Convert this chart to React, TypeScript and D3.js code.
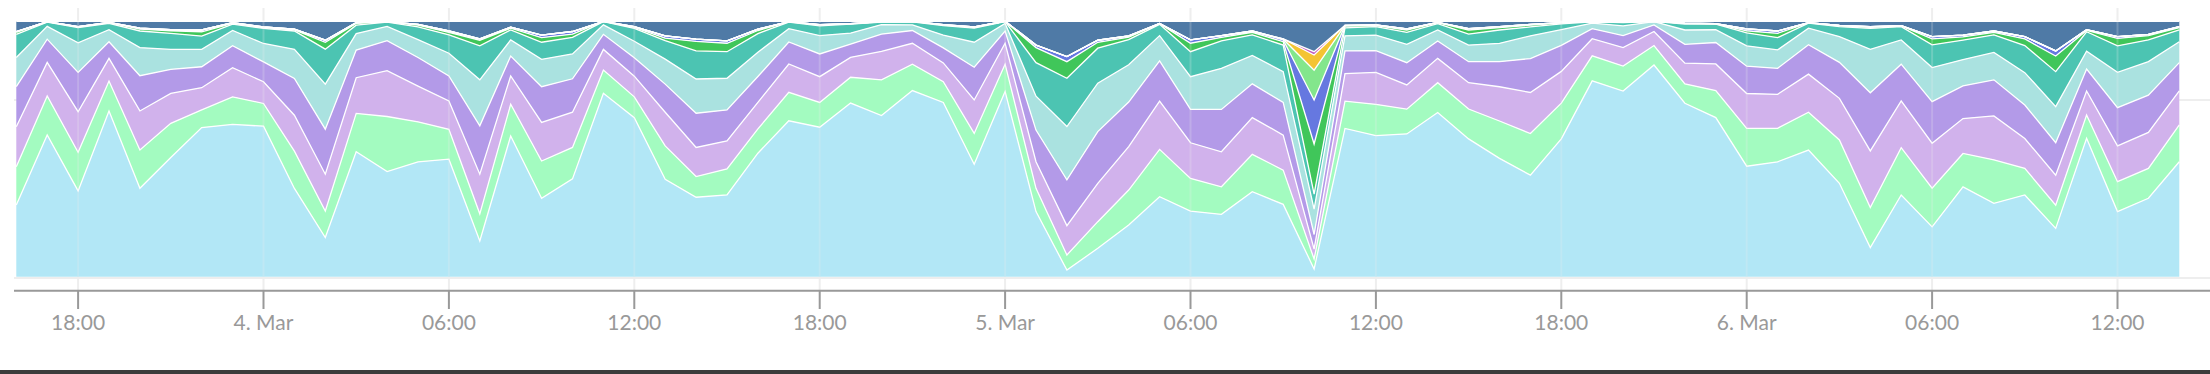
import React from "react";
import * as d3 from "d3";

// hourly samples, 3 Mar 16:00 → 6 Mar 14:00 (71 points)
const START = new Date(2020, 2, 3, 16);
const N_POINTS = 71;

const seriesNames = [
  "Series A", "Series B", "Series C", "Series D", "Series E", "Series F",
  "Series G", "Series H", "Series I", "Series J", "Series K", "Series L",
];

const seriesColors = [
  "#b2e7f6", "#a3fbc0", "#d1b2ec", "#b39ae8", "#aae2e0", "#4cc4b2",
  "#40c65a", "#6678e0", "#83e68c", "#f4c433", "#c45cc0", "#4f7aa6",
];

const sA = [28.1,55.5,33.6,64.9,34.6,46.6,58.4,59.7,59.0,34.6,15.3,49.0,41.1,45.0,46.0,14.0,55.1,30.7,38.3,71.8,62.3,38.1,31.1,32.0,48.3,61.0,58.6,67.9,63.1,72.8,68.3,44.0,72.5,25.5,2.6,11.1,20.2,31.3,25.7,24.4,33.3,28.3,3.0,58.1,55.2,55.9,64.2,53.9,46.3,39.8,53.9,76.6,72.7,82.9,67.9,62.3,43.3,45.0,49.6,36.6,11.4,32.0,19.5,35.2,28.7,32.0,18.9,54.2,25.5,30.7,45.0];
const sB = [15.0,15.3,15.1,11.7,15.0,13.4,6.9,10.8,8.9,14.6,10.4,15.0,21.5,15.7,11.7,10.6,12.4,14.6,12.3,9.1,8.2,13.1,8.1,10.2,9.5,11.1,9.7,10.1,14.0,10.3,8.1,12.1,10.7,9.1,5.9,10.4,13.7,18.5,12.8,10.8,14.6,13.4,3.9,10.7,12.3,9.7,11.7,11.7,14.6,16.3,14.0,9.8,9.8,7.6,7.6,10.6,14.8,13.1,14.8,17.0,15.7,18.5,15.1,13.1,17.0,10.4,9.1,9.1,11.7,11.7,14.4];
const sC = [15.7,13.1,15.9,8.9,15.3,11.7,8.7,11.4,8.5,14.1,14.4,14.0,17.9,14.0,11.1,15.5,11.1,15.1,13.8,8.1,8.1,13.2,11.4,11.0,10.4,11.1,10.1,7.8,11.1,8.2,7.4,13.1,8.2,10.4,11.5,15.0,17.0,18.9,14.0,13.7,14.4,13.7,3.9,10.8,12.5,9.5,9.5,10.3,13.4,16.1,12.4,6.7,7.2,5.5,8.1,10.4,13.7,13.3,14.9,16.3,22.2,18.3,17.6,13.7,17.2,11.7,11.7,9.4,14.0,14.1,13.4];
const sD = [15.7,9.1,15.4,6.5,13.8,9.4,8.2,8.6,7.8,14.4,17.6,10.8,11.7,11.2,9.8,18.9,7.8,14.0,13.1,5.9,7.2,11.0,13.4,12.1,10.1,8.6,8.9,5.2,6.8,5.0,5.9,12.8,4.8,12.4,17.9,20.2,17.4,15.7,13.1,16.6,13.2,12.8,5.7,8.9,8.5,8.7,6.8,8.2,9.8,13.3,10.2,3.9,4.7,2.6,7.4,8.4,10.7,10.2,11.5,14.1,22.8,14.4,16.3,12.8,14.1,13.1,12.7,8.6,15.0,14.6,11.0];
const sE = [11.4,5.0,11.6,4.7,11.0,7.8,6.8,6.0,7.2,11.4,17.6,6.5,5.6,7.0,8.9,18.0,6.3,10.7,9.7,3.7,6.5,9.8,13.4,12.4,9.5,5.2,7.2,4.3,3.7,2.2,5.0,9.8,3.0,13.3,20.9,18.9,14.6,9.9,12.8,16.1,11.1,12.0,9.9,5.9,6.1,7.2,4.3,6.5,7.2,8.9,6.1,2.2,3.8,1.3,5.6,5.0,8.0,7.2,6.5,10.1,17.0,9.5,13.3,10.3,10.7,12.7,14.1,7.0,13.8,13.1,8.2];
const sF = [9.1,1.7,5.9,2.5,6.5,6.3,5.2,2.5,5.9,7.2,13.7,3.3,1.7,5.0,7.2,13.3,3.9,6.7,6.5,1.3,5.0,7.2,11.0,10.4,7.3,2.6,3.8,3.5,1.0,1.2,3.7,5.5,0.7,13.1,18.9,13.7,9.8,4.4,9.8,10.7,8.1,10.4,5.9,3.1,3.3,4.7,2.5,4.3,5.2,3.5,2.3,0.5,1.3,0.1,2.3,2.2,5.1,4.8,2.0,3.9,8.2,5.2,8.9,7.6,6.9,10.6,13.7,7.6,10.4,8.5,4.6];
const sG = [0.8,0.1,0.3,0.3,0.7,1.0,1.7,0.3,0.3,0.4,2.7,0.7,0.1,0.7,1.0,2.2,0.7,1.8,1.3,0.1,0.4,1.0,3.7,3.3,1.2,0.1,0.4,0.1,0.1,0.1,0.3,0.4,0.1,5.9,6.5,2.3,1.0,0.3,3.3,1.4,1.0,1.3,19.6,0.7,0.4,0.9,0.4,1.6,0.9,0.7,0.4,0.1,0.1,0,0.3,0.1,0.8,1.7,0.1,0.4,0.4,0.3,2.3,1.3,1.0,2.6,6.1,0.5,2.9,1.7,0.9];
const sH = [0.3,0.1,0.1,0.1,0.4,0.4,0.7,0.3,0.3,0.3,0.8,0.3,0.1,0.3,0.5,0.5,0.4,1.0,1.0,0,0.3,0.9,0.9,0.9,0.5,0.1,0.1,0.1,0.1,0.1,0.1,0.1,0,1.0,2.0,0.8,0.5,0.1,1.3,0.7,0.5,0.7,17.2,0.3,0.3,0.4,0.1,0.5,0.4,0.3,0.1,0,0.1,0,0.1,0.1,0.7,0.9,0.1,0.1,0.3,0.1,0.9,0.7,0.5,0.9,2.0,0.3,0.7,0.5,0.4];
const sI = [0,0,0,0,0,0,0,0,0,0,0,0,0,0,0,0,0,0,0,0,0,0,0,0,0,0,0,0,0,0,0,0,0,0,0,0,0,0,0,0,0,0.3,11.7,0,0,0,0,0,0,0,0,0,0,0,0,0,0,0,0,0,0,0,0,0,0,0,0,0,0,0,0];
const sJ = [0,0,0,0,0,0,0,0,0,0,0,0,0,0,0,0,0,0,0,0,0,0,0,0,0,0,0,0,0,0,0,0,0,0,0,0,0,0,0,0,0,0.1,5.9,0,0,0,0,0,0,0,0,0,0,0,0,0,0,0,0,0,0,0,0,0,0,0,0,0,0,0,0];
const sK = [0,0,0,0,0,0,0,0,0,0,0,0,0,0,0,0,0,0,0,0,0,0,0,0,0,0,0,0,0,0,0,0,0,0,0,0,0,0,0,0,0,0,1.3,0,0,0,0,0,0,0,0,0,0,0,0,0,0,0,0,0,0,0,0,0,0,0,0,0,0,0,0];
const sL = [4.0,0.1,2.1,0.4,2.7,3.3,3.4,0.5,2.2,3.1,7.4,0.5,0.1,1.2,3.8,6.9,2.3,5.4,4.0,0,2.1,5.7,7.0,7.7,3.1,0.1,1.3,0.9,0.1,0,1.3,2.2,0,9.3,13.8,7.4,5.7,0.8,7.3,5.6,3.8,6.9,11.9,1.6,1.4,3.0,0.4,2.9,2.1,1.2,0.5,0.1,0.3,0,0.7,0.9,3.0,3.8,0.5,1.6,2.1,1.7,6.0,5.4,3.8,6.0,11.6,3.3,6.0,5.1,2.1];

const seriesValues = [sA, sB, sC, sD, sE, sF, sG, sH, sI, sJ, sK, sL];

const W = 2210;
const H = 374;

export default function App() {
  const times = d3.range(N_POINTS).map((i) => d3.timeHour.offset(START, i));
  const rows = times.map((t, i) => {
    const r: any = { t };
    seriesNames.forEach((k, j) => (r[k] = seriesValues[j][i]));
    return r;
  });

  const x = d3.scaleTime().domain([times[0], times[N_POINTS - 1]]).range([16.3, 2179.3]);
  const y = d3.scaleLinear().domain([0, 1]).range([276.7, 21.3]);

  const stacked = d3.stack().keys(seriesNames).offset(d3.stackOffsetExpand)(rows as any);

  const area = d3
    .area<any>()
    .x((d) => x(d.data.t))
    .y0((d) => y(d[0]))
    .y1((d) => y(d[1]));
  const line = d3
    .line<any>()
    .x((d) => x(d.data.t))
    .y((d) => y(d[1]));

  const ticks = x.ticks(d3.timeHour.every(6) as any);
  const fmtDay = d3.timeFormat("%-d. %b");
  const fmtHour = d3.timeFormat("%H:%M");
  const fmt = (d: Date) => (d.getHours() === 0 ? fmtDay(d) : fmtHour(d));

  return (
    <svg
      width={W}
      height={H}
      style={{ position: "absolute", left: 0, top: 0, display: "block", background: "#fff" }}
    >
      {/* horizontal grid lines (behind) */}
      {[0, 0.7].map((v, i) => (
        <line
          key={"hg" + i}
          x1={14}
          x2={W}
          y1={i === 0 ? 278 : 100}
          y2={i === 0 ? 278 : 100}
          stroke="#eeeeee"
          strokeWidth={2}
        />
      ))}
      {/* vertical grid lines (behind) */}
      {ticks.map((t, i) => (
        <line key={"vg" + i} x1={x(t)} x2={x(t)} y1={8} y2={290} stroke="#eeeeee" strokeWidth={2} />
      ))}
      {stacked.map((s, i) => (
        <path key={"a" + i} d={area(s as any) || ""} fill={seriesColors[i]} stroke="none" />
      ))}
      {stacked.map((s, i) => (
        <path key={"l" + i} d={line(s as any) || ""} fill="none" stroke="#ffffff" strokeWidth={1.3} />
      ))}
      {/* faint grid over plot */}
      {ticks.map((t, i) => (
        <line
          key={"vo" + i}
          x1={x(t)}
          x2={x(t)}
          y1={21}
          y2={277}
          stroke="rgba(235,235,235,0.22)"
          strokeWidth={2}
        />
      ))}
      {/* x axis */}
      <line x1={14} x2={W} y1={290.7} y2={290.7} stroke="#999999" strokeWidth={2} />
      {ticks.map((t, i) => (
        <g key={"t" + i} transform={`translate(${x(t)},0)`}>
          <line y1={290.7} y2={309} stroke="#999999" strokeWidth={2} />
          <text
            y={330}
            textAnchor="middle"
            fontFamily="Lato, 'Open Sans', sans-serif"
            fontSize={21}
            fill="#999999"
          >
            {fmt(t)}
          </text>
        </g>
      ))}
      <rect x={0} y={370} width={W} height={4} fill="#3c3c3c" />
    </svg>
  );
}
